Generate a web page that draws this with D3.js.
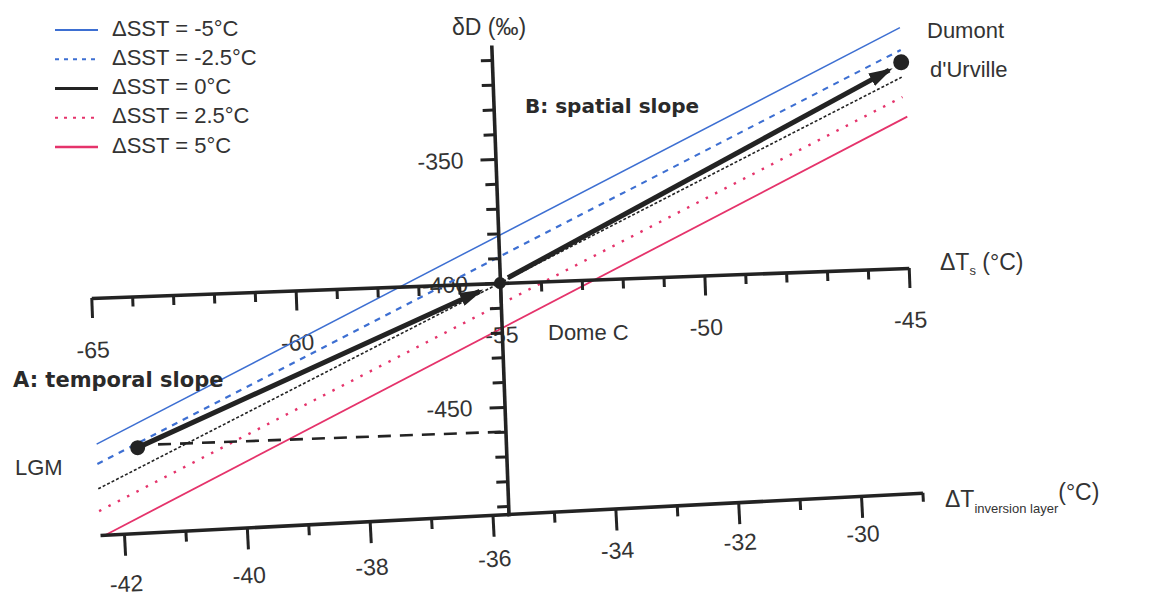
<!DOCTYPE html>
<html><head><meta charset="utf-8">
<script src="https://cdn.jsdelivr.net/npm/d3@7"></script>
<style>body{margin:0;background:#fff} svg{display:block;font-family:"Liberation Sans",Arial,sans-serif}</style>
</head><body><svg id="c" width="1161" height="601"></svg>
<script>
// ---------------- data ----------------
const sstLabels = ["ΔSST = -5°C","ΔSST = -2.5°C","ΔSST = 0°C","ΔSST = 2.5°C","ΔSST = 5°C"];
const lineTsStart = [-65.0,-65.0,-65.0,-65.0,-64.9];
const lineTsEnd   = [-45.0,-45.0,-45.0,-45.0,-44.9];
const lineDDStart = [-459,-467,-477,-486,-496];
const lineDDEnd   = [-303,-312,-323,-331,-339];

const tsTicks = [-65,-64,-63,-62,-61,-60,-59,-58,-57,-56,-55,-54,-53,-52,-51,-50,-49,-48,-47,-46,-45];
const tsTickLabels = [-65,-60,-55,-50,-45];
const ddTicks = [-490,-480,-470,-460,-450,-440,-430,-420,-410,-400,-390,-380,-370,-360,-350,-340,-330,-320,-310];
const ddTickLabels = [-350,-400,-450];
const invTicks = [-42,-41,-40,-39,-38,-37,-36,-35,-34,-33,-32,-31,-30,-29];
const invTickLabels = [-42,-40,-38,-36,-34,-32,-30];

const siteNames = ["LGM","Dome C","Dumont","d'Urville"];
const siteTs = [-64,-55,-45];
const siteDD = [-461,-400,-317];
const lgmDashTs = [-63.5,-55];
const lgmDashDD = [-460,-460];
const arrowA_Ts = [-64,-55.5], arrowA_DD = [-461,-403];
const arrowB_Ts = [-54.8,-45.3], arrowB_DD = [-398,-320];
const slopeLabels = ["A: temporal slope","B: spatial slope"];

// ---------------- styles ----------------
const BLUE = "#3d6fd2", PINK = "#e5336b", INK = "#232323", TXT = "#333";
const sstStyle = [
  {color:BLUE, width:1.5, dash:null,  lw:1.8, ldash:null},
  {color:BLUE, width:2.2, dash:"6,6", lw:2.2, ldash:"4,5"},
  {color:INK,  width:1.6, dash:"3,2", lw:3.2, ldash:null},
  {color:PINK, width:2.4, dash:"2.5,8", lw:2.2, ldash:"3,6"},
  {color:PINK, width:1.8, dash:null,  lw:2.4, ldash:null}
];
const fmt = d => String(d);

const svg = d3.select("#c");
const defs = svg.append("defs");
defs.append("marker").attr("id","ah").attr("viewBox","0 0 24 14")
  .attr("refX",20).attr("refY",7).attr("markerWidth",24).attr("markerHeight",14)
  .attr("markerUnits","userSpaceOnUse").attr("orient","auto")
  .append("path").attr("d","M0,0L24,7L0,14Z").attr("fill",INK);

// main rotated frame (ΔTs vs δD)
const g = svg.append("g").attr("transform","translate(500,283) rotate(-2.1)");
const xS = d3.scaleLinear().domain([-65,-45]).range([-409,409]);
const yS = d3.scaleLinear().domain([-494,-304]).range([233.1,-238.1]);

// tick labels (drawn under lines)
g.append("g").selectAll("text").data(tsTickLabels).join("text")
  .attr("x",d=>xS(d)).attr("y",52).attr("text-anchor","middle")
  .attr("dominant-baseline","central").attr("font-size",23).attr("fill",TXT)
  .text(fmt);
g.append("g").selectAll("text").data(ddTickLabels).join("text")
  .attr("x",xS(-55)-32).attr("y",d=>yS(d)).attr("text-anchor","end")
  .attr("dominant-baseline","central").attr("font-size",23).attr("fill",TXT)
  .text(fmt);

// ΔSST lines
const lineGen = d3.line().x(d=>xS(d[0])).y(d=>yS(d[1]));
g.append("g").selectAll("path").data(sstLabels).join("path")
  .attr("d",(d,i)=>lineGen([[lineTsStart[i],lineDDStart[i]],[lineTsEnd[i],lineDDEnd[i]]]))
  .attr("fill","none")
  .attr("stroke",(d,i)=>sstStyle[i].color)
  .attr("stroke-width",(d,i)=>sstStyle[i].width)
  .attr("stroke-dasharray",(d,i)=>sstStyle[i].dash);

// LGM dashed reference
g.append("path").attr("d",lineGen(lgmDashTs.map((t,i)=>[t,lgmDashDD[i]])))
  .attr("fill","none").attr("stroke",INK).attr("stroke-width",2.6).attr("stroke-dasharray","13,9");

// ΔTs axis
const axTs = g.append("g").call(d3.axisBottom(xS).tickValues(tsTicks).tickSizeOuter(0).tickFormat(""));
axTs.select(".domain").attr("stroke",INK).attr("stroke-width",3.6);
axTs.selectAll(".tick line").attr("stroke",INK).attr("stroke-width",3)
  .attr("y2",d=>tsTickLabels.includes(d)?20:10);

// δD axis
const axD = g.append("g").attr("transform",`translate(${xS(-55)},0)`)
  .call(d3.axisLeft(yS).tickValues(ddTicks).tickSizeOuter(0).tickFormat(""));
axD.select(".domain").attr("stroke",INK).attr("stroke-width",3.6);
axD.selectAll(".tick line").attr("stroke",INK).attr("stroke-width",3)
  .attr("x2",d=>ddTickLabels.includes(d)?-15:-11);

// arrows
g.append("path").attr("d",lineGen(arrowA_Ts.map((t,i)=>[t,arrowA_DD[i]])))
  .attr("stroke",INK).attr("stroke-width",5).attr("fill","none").attr("marker-end","url(#ah)");
g.append("path").attr("d",lineGen(arrowB_Ts.map((t,i)=>[t,arrowB_DD[i]])))
  .attr("stroke",INK).attr("stroke-width",5).attr("fill","none").attr("marker-end","url(#ah)");

// site markers
g.append("g").selectAll("circle").data(siteTs).join("circle")
  .attr("cx",d=>xS(d)).attr("cy",(d,i)=>yS(siteDD[i])).attr("r",(d,i)=>[7.5,6,8][i]).attr("fill",INK);

// inversion-layer axis
const gi = svg.append("g").attr("transform","translate(100,535) rotate(-2.94)");
const iS = d3.scaleLinear().domain([-42.39,-29]).range([0,823.5]);
const axI = gi.append("g").call(d3.axisBottom(iS).tickValues(invTicks).tickSizeOuter(0).tickFormat(""));
axI.select(".domain").attr("stroke",INK).attr("stroke-width",3.6);
axI.selectAll(".tick line").attr("stroke",INK).attr("stroke-width",3)
  .attr("y2",d=>d===-29?9:(invTickLabels.includes(d)?22:11));
const offI = d3.scaleLinear().domain([-42,-30]).range([50,38]);
gi.append("g").selectAll("text").data(invTickLabels).join("text")
  .attr("x",d=>iS(d)).attr("y",d=>offI(d)).attr("text-anchor","middle")
  .attr("dominant-baseline","central").attr("font-size",23).attr("fill",TXT).text(fmt);

// axis titles
svg.append("text").attr("x",489).attr("y",35).attr("text-anchor","middle")
  .attr("font-size",23).attr("fill",TXT).text("δD (‰)");
const tTs = svg.append("text").attr("x",940).attr("y",270).attr("font-size",23).attr("fill",TXT);
tTs.append("tspan").text("ΔT");
tTs.append("tspan").attr("dy",5).attr("font-size",13).text("s");
tTs.append("tspan").attr("dy",-5).text(" (°C)");
const tInv = svg.append("text").attr("x",945).attr("y",507).attr("font-size",23).attr("fill",TXT);
tInv.append("tspan").text("ΔT");
tInv.append("tspan").attr("dy",6).attr("font-size",13).text("inversion layer");
tInv.append("tspan").attr("dy",-13).text("(°C)");

// site labels
const sitePos = [[15,475],[548,340],[927,38],[930,77]];
svg.append("g").selectAll("text").data(siteNames).join("text")
  .attr("x",(d,i)=>sitePos[i][0]).attr("y",(d,i)=>sitePos[i][1])
  .attr("font-size",22).attr("fill",TXT).text(d=>d);

// slope labels
const slopePos = [[13,387],[525,113]];
svg.append("g").selectAll("text").data(slopeLabels).join("text")
  .attr("x",(d,i)=>slopePos[i][0]).attr("y",(d,i)=>slopePos[i][1])
  .attr("font-family","DejaVu Sans, sans-serif").attr("font-weight","bold")
  .attr("font-size",(d,i)=>[21,20][i]).attr("fill","#2a2a2a").text(d=>d);

// legend
const leg = svg.append("g");
const rowY = d3.scaleLinear().domain([0,4]).range([28,145]);
sstLabels.forEach((lab,i)=>{
  const y = rowY(i);
  leg.append("line").attr("x1",55).attr("x2",98).attr("y1",y+2).attr("y2",y+2)
    .attr("stroke",sstStyle[i].color).attr("stroke-width",sstStyle[i].lw)
    .attr("stroke-dasharray",sstStyle[i].ldash);
  leg.append("text").attr("x",112).attr("y",y).attr("dominant-baseline","central")
    .attr("font-size",22).attr("fill",TXT).text(lab);
});
</script></body></html>
